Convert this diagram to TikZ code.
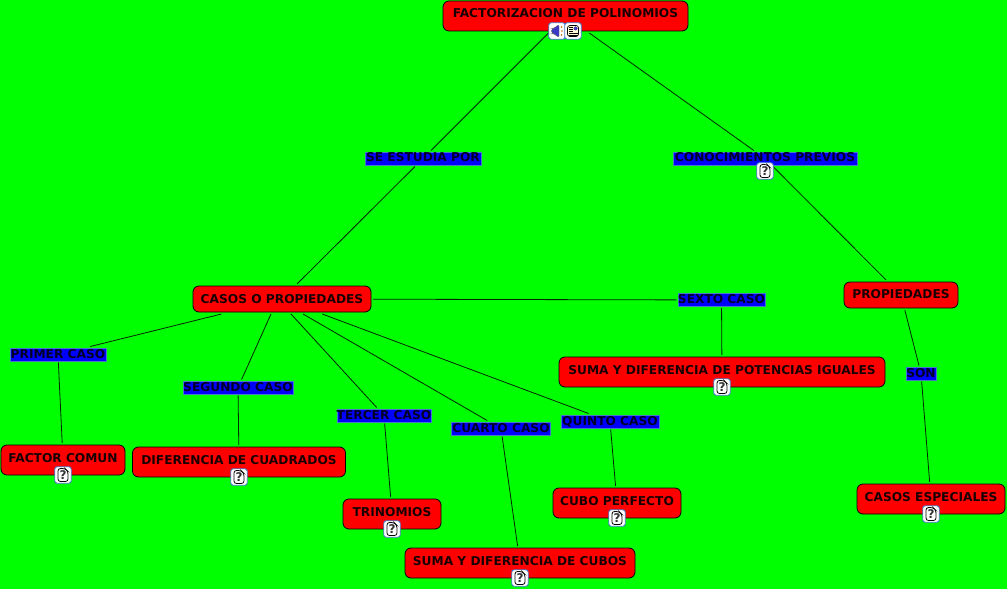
\documentclass[tikz,border=0pt]{standalone}
\usepackage{fontspec}
\setmainfont{DejaVu Sans}
\definecolor{bggreen}{RGB}{0,255,0}
\definecolor{boxred}{RGB}{255,0,0}
\definecolor{labblue}{RGB}{0,0,255}
\definecolor{iconedge}{RGB}{70,120,200}
\tikzset{
  x=1bp,y=-1bp,
  concept/.style={draw=black,fill=boxred,rounded corners=6bp,line width=0.8bp,inner xsep=0pt,inner ysep=0pt,
    font=\fontsize{12.2bp}{14bp}\bfseries,text=black!90!red,align=center,outer sep=2bp,text height=17bp,text depth=#1},
  concept/.default=13bp,
  linklab/.style={draw=iconedge,fill=labblue,line width=0.3bp,inner xsep=0pt,inner ysep=0pt,
    font=\fontsize{12.2bp}{14bp}\bfseries,text=black!85!blue,outer sep=1.5bp,text height=10bp,text depth=3bp},
  conn/.style={draw=black!85!green,line width=0.8bp},
  iconbase/.style={draw=iconedge,fill=white,rounded corners=2.5bp,line width=0.9bp,minimum size=16.5bp,inner sep=0pt},
  helpicon/.style={iconbase,font=\fontsize{12bp}{12bp}\bfseries,text=black!80,
    path picture={\draw[black,line width=0.8bp]
      ([shift={(-5,-6.5)}]path picture bounding box.center) -- ++(7,0) -- ++(3,3) -- ++(0,10) -- ++(-10,0) -- cycle;}},
  soundicon/.style={iconbase,
    path picture={\fill[blue!55!gray,draw=black!60,line width=0.3bp]
      ([shift={(2,-7)}]path picture bounding box.center) -- ++(0,14) -- ++(-5,-4.5) -- ++(-2.5,0) -- ++(0,-5) -- ++(2.5,0) -- cycle;
      \fill[orange!80!black] ([shift={(4.5,-4)}]path picture bounding box.center) circle (0.9bp);
      \fill[orange!80!black] ([shift={(5,0)}]path picture bounding box.center) circle (0.9bp);
      \fill[orange!80!black] ([shift={(4.5,4)}]path picture bounding box.center) circle (0.9bp);}},
  noteicon/.style={iconbase,
    path picture={\draw[black,fill=yellow!15,line width=0.7bp]
      ([shift={(-5.5,-5.5)}]path picture bounding box.center) rectangle ++(11,11);
      \fill[blue!50!gray] ([shift={(0.5,-4.5)}]path picture bounding box.center) rectangle ++(4,4);
      \foreach \yy in {-4,-2,0}{\draw[black,line width=0.6bp] ([shift={(-4,\yy)}]path picture bounding box.center) -- ++(4,0);}
      \foreach \yy in {2,4}{\draw[black,line width=0.6bp] ([shift={(-4,\yy)}]path picture bounding box.center) -- ++(8.5,0);}}}
}
\begin{document}
\begin{tikzpicture}
\path[fill=bggreen,use as bounding box] (0,0) rectangle (1007,589);
% concepts
\node[concept,minimum width=245bp] (root) at (565.5,16) {FACTORIZACION DE POLINOMIOS};
\node[concept=9bp,minimum width=178bp] (casos) at (282,299) {CASOS O PROPIEDADES};
\node[concept=9bp,minimum width=114bp] (prop) at (901,295) {PROPIEDADES};
\node[concept,minimum width=124bp] (factor) at (63,460) {FACTOR COMUN};
\node[concept,minimum width=213bp] (dif) at (239,462) {DIFERENCIA DE CUADRADOS};
\node[concept,minimum width=98bp] (trin) at (392,514) {TRINOMIOS};
\node[concept,minimum width=230bp] (sumac) at (520,563) {SUMA Y DIFERENCIA DE CUBOS};
\node[concept,minimum width=128bp] (cubo) at (617,503) {CUBO PERFECTO};
\node[concept,minimum width=326bp] (pot) at (722,372) {SUMA Y DIFERENCIA DE POTENCIAS IGUALES};
\node[concept,minimum width=148bp] (esp) at (931,499) {CASOS ESPECIALES};
% link labels
\node[linklab,minimum width=116bp] (lestudia) at (423,158.5) {SE ESTUDIA POR};
\node[linklab,minimum width=184bp] (lprev) at (765,158.5) {CONOCIMIENTOS PREVIOS};
\node[linklab,minimum width=96bp] (lprimer) at (58,354.5) {PRIMER CASO};
\node[linklab,minimum width=109bp] (lseg) at (238,387.5) {SEGUNDO CASO};
\node[linklab,minimum width=94bp] (lter) at (384,415.5) {TERCER CASO};
\node[linklab,minimum width=99bp] (lcua) at (501,428.5) {CUARTO CASO};
\node[linklab,minimum width=98bp] (lqui) at (610,421.5) {QUINTO CASO};
\node[linklab,minimum width=86bp] (lsex) at (721.5,300) {SEXTO CASO};
\node[linklab,minimum width=30bp] (lson) at (921,373.5) {SON};
% connectors
\draw[conn] (root) -- (lestudia);
\draw[conn] (lestudia) -- (casos);
\draw[conn] (root) -- (lprev);
\draw[conn] (lprev) -- (prop);
\draw[conn] (prop) -- (lson);
\draw[conn] (lson) -- (esp);
\draw[conn] (casos) -- (lprimer);
\draw[conn] (lprimer) -- (factor);
\draw[conn] ([xshift=-11bp]casos.south) -- (lseg);
\draw[conn] (lseg) -- (dif);
\draw[conn] ([xshift=9bp]casos.south) -- (lter);
\draw[conn] (lter) -- (trin);
\draw[conn] ([xshift=21bp]casos.south) -- (lcua);
\draw[conn] (lcua) -- (sumac);
\draw[conn] (casos) -- (lqui);
\draw[conn] (lqui) -- (cubo);
\draw[conn] (casos) -- (lsex);
\draw[conn] (lsex) -- (pot);
% icons
\node[soundicon] (isound) at (557,31) {};
\node[noteicon] (inote) at (573,31) {};
\node[helpicon] (iprev) at (765,171) {?};
\node[helpicon] (ifactor) at (63,475) {?};
\node[helpicon] (idif) at (239,477) {?};
\node[helpicon] (itrin) at (392,529) {?};
\node[helpicon] (isumac) at (520,578) {?};
\node[helpicon] (icubo) at (617,518) {?};
\node[helpicon] (ipot) at (722,387) {?};
\node[helpicon] (iesp) at (931,514) {?};
\end{tikzpicture}
\end{document}
